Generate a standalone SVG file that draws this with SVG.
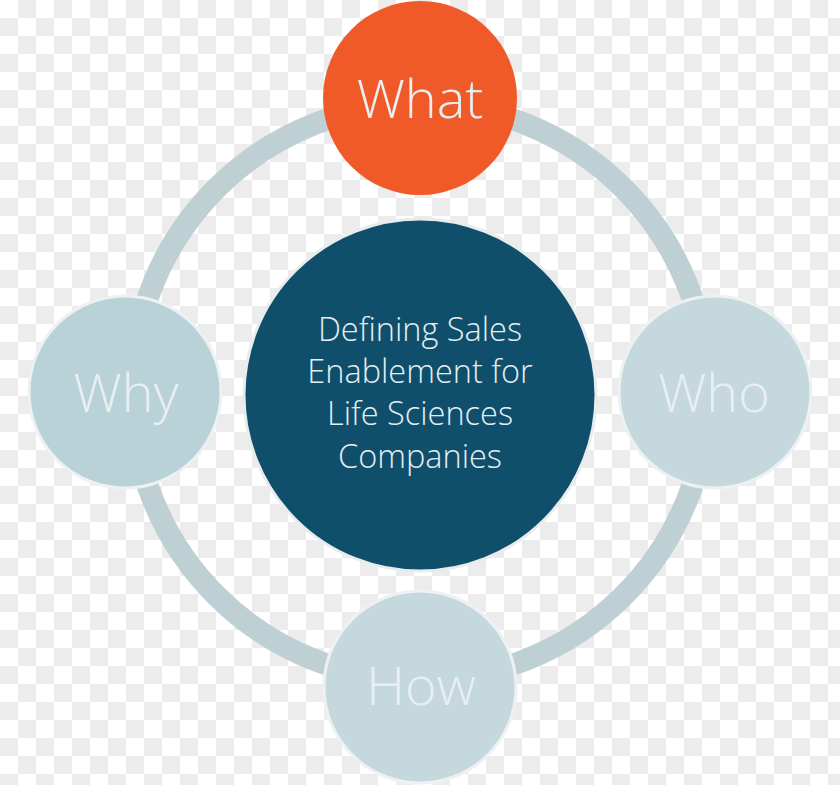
<svg xmlns="http://www.w3.org/2000/svg" width="840" height="785" viewBox="0 0 840 785">
<defs>
<pattern id="checker" x="0" y="0" width="36" height="36" patternUnits="userSpaceOnUse">
<rect width="36" height="36" fill="#ffffff"/>
<rect x="18" y="0" width="18" height="18" fill="#ececec"/>
<rect x="0" y="18" width="18" height="18" fill="#ececec"/>
</pattern>
<style>
.lbl{font-family:"Open Sans","Liberation Sans",sans-serif;font-weight:300;text-anchor:middle}
.big{font-size:54px}
.light{fill:#e9eff1}
.sat{fill:#c5d8de;stroke:#eef1f2;stroke-width:3}
.ctr{font-size:32.5px;fill:#e4eef2}
</style>
</defs>
<rect width="840" height="785" fill="url(#checker)"/>
<g id="connectors">
<circle cx="420" cy="392" r="288" fill="none" stroke="#bfd0d5" stroke-width="22"/>
</g>
<g id="center">
<circle cx="420" cy="395" r="176" fill="#0f4f6b" stroke="#e8eced" stroke-width="3"/>
<text class="lbl ctr" x="420" y="341">Defining Sales</text>
<text class="lbl ctr" x="420" y="383">Enablement for</text>
<text class="lbl ctr" x="420" y="425">Life Sciences</text>
<text class="lbl ctr" x="420" y="468">Companies</text>
</g>
<g id="what">
<circle cx="420" cy="98" r="97" fill="#f05a28"/>
<text class="lbl big light" x="420" y="118">What</text>
</g>
<g id="why">
<circle cx="125" cy="392" r="96" class="sat" style="fill:#b9d2d8"/>
<text class="lbl big light" x="126" y="412">Why</text>
</g>
<g id="who">
<circle cx="715" cy="392" r="96" class="sat"/>
<text class="lbl big light" x="714" y="412">Who</text>
</g>
<g id="how">
<circle cx="420" cy="687" r="96" class="sat"/>
<text class="lbl big light" x="421" y="705">How</text>
</g>
</svg>
